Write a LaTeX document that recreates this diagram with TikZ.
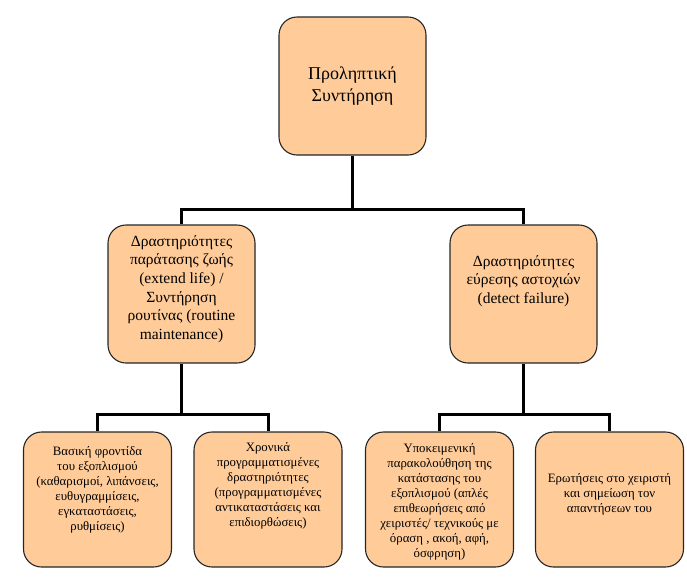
\documentclass[tikz,border=0pt]{standalone}
\usepackage{fontspec}
\setmainfont{Liberation Serif}
\usepackage{tikz}
\usetikzlibrary{positioning}
\definecolor{boxPeach}{HTML}{FFCC99}

\begin{document}
\begin{tikzpicture}[
    x=1pt, y=-1pt,
    box/.style={rectangle, draw=black!85, line width=1.1pt, rounded corners=18pt, fill=boxPeach, minimum width=147pt, minimum height=138pt},
    lowbox/.style={box, minimum width=148pt, minimum height=135pt},
    toptext/.style={align=center, inner sep=0pt, font=\fontsize{18}{22.5}\selectfont},
    midtext/.style={align=center, inner sep=0pt, font=\fontsize{15.5}{18.7}\selectfont},
    lowtext/.style={align=center, inner sep=0pt, font=\fontsize{12.8}{15}\selectfont},
    conn/.style={line width=3pt},
]
    \useasboundingbox (0,0) rectangle (687,576);

    % Boxes
    \node[box] (top) at (352.5,86) {};
    \node[box] (extend) at (181.5,294) {};
    \node[box] (detect) at (523.5,294) {};
    \node[lowbox] (care) at (97.5,499.5) {};
    \node[lowbox] (sched) at (268,499.5) {};
    \node[lowbox] (watch) at (439.5,499.5) {};
    \node[lowbox] (ask) at (609.5,499.5) {};

    % Texts
    \node[toptext] (top-t) at (top) {Προληπτική\\Συντήρηση};
    \node[midtext] (extend-t) at ([yshift=5pt]extend.center) {Δραστηριότητες\\παράτασης ζωής\\(extend life) /\\Συντήρηση\\ρουτίνας (routine\\maintenance)};
    \node[midtext] (detect-t) at ([yshift=13pt]detect.center) {Δραστηριότητες\\εύρεσης αστοχιών\\(detect failure)};
    \node[lowtext] (care-t) at ([yshift=10pt]care.center) {Βασική φροντίδα\\του εξοπλισμού\\(καθαρισμοί, λιπάνσεις,\\ευθυγραμμίσεις,\\εγκαταστάσεις,\\ρυθμίσεις)};
    \node[lowtext] (sched-t) at ([yshift=14pt]sched.center) {Χρονικά\\προγραμματισμένες\\δραστηριότητες\\(προγραμματισμένες\\αντικαταστάσεις και\\επιδιορθώσεις)};
    \node[lowtext] (watch-t) at ([yshift=-2pt]watch.center) {Υποκειμενική\\παρακολούθηση της\\κατάστασης του\\εξοπλισμού (απλές\\επιθεωρήσεις από\\χειριστές/ τεχνικούς με\\όραση , ακοή, αφή,\\όσφρηση)};
    \node[lowtext] (ask-t) at ([yshift=5pt]ask.center) {Ερωτήσεις στο χειριστή\\και σημείωση τον\\απαντήσεων του};

    % Connectors
    \coordinate (bus1) at (352.5,209);
    \coordinate (bus2) at (181.5,414);
    \coordinate (bus3) at (523.5,414);
    \draw[conn] (top.south) -- (bus1) -| (extend.north);
    \draw[conn] (bus1) -| (detect.north);
    \draw[conn] (extend.south) -- (bus2) -| (care.north);
    \draw[conn] (bus2) -| (sched.north);
    \draw[conn] (detect.south) -- (bus3) -| (watch.north);
    \draw[conn] (bus3) -| (ask.north);
\end{tikzpicture}
\end{document}
